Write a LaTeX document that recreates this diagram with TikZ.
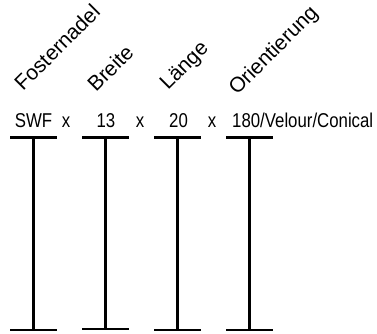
\documentclass[tikz,border=0pt]{standalone}
\usepackage{fontspec}
\setmainfont{Liberation Sans}
\newcommand\narrowtxt[1]{\scalebox{0.84}[1]{#1}}
\begin{document}
\begin{tikzpicture}[x=1pt,y=-1pt,
  lbl/.style={inner sep=0pt,font=\fontsize{20}{22}\selectfont},
  rlbl/.style={inner sep=0pt,font=\fontsize{21}{23}\selectfont,rotate=45,anchor=base west},
  hlbl/.style={lbl,anchor=base},
  beam/.style={line width=2.2pt}]
\useasboundingbox (0,0) rectangle (377,333);
% rotated headings
\node[rlbl] (h1) at (23,92) {Fosternadel};
\node[rlbl] (h2) at (96,93) {Breite};
\node[rlbl] (h3) at (168,91) {Länge};
\node[rlbl] (h4) at (237,96) {Orientierung};
% values
\node[hlbl] (v1) at (33.5,127.5) {\narrowtxt{SWF}};
\node[hlbl] (x1) at (66,127.5) {\narrowtxt{x}};
\node[hlbl] (v2) at (106,127.5) {\narrowtxt{13}};
\node[hlbl] (x2) at (140,127.5) {\narrowtxt{x}};
\node[hlbl] (v3) at (178.5,127.5) {\narrowtxt{20}};
\node[hlbl] (x3) at (212,127.5) {\narrowtxt{x}};
\node[lbl,anchor=base west] (v4) at (232,127.5) {\narrowtxt{180/Velour/Conical}};
% I-beams
\foreach \i/\x/\yb in {1/33.5/330.3,2/105.5/329.3,3/177.5/330.3,4/249.5/330.3}{
  \coordinate (t\i) at (\x,137.5);
  \coordinate (b\i) at (\x,\yb);
  \draw[beam] ([xshift=-23.5pt]t\i) -- ([xshift=23.5pt]t\i);
  \draw[beam] ([xshift=-23.5pt]b\i) -- ([xshift=23.5pt]b\i);
  \draw[beam] (t\i) -- (b\i);
}
\end{tikzpicture}
\end{document}
